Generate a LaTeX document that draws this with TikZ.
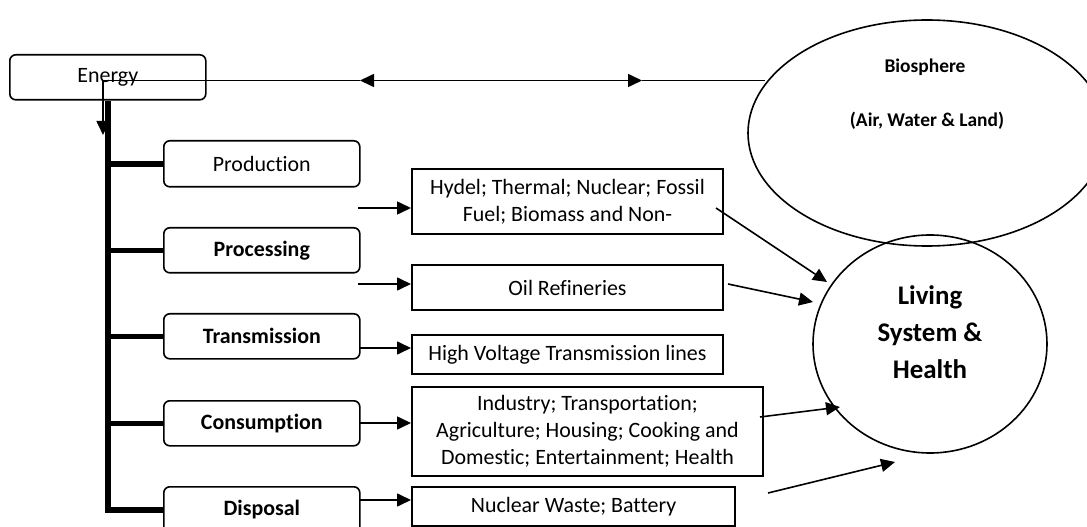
\documentclass[tikz,border=0pt]{standalone}
\usepackage{fontspec}
\setmainfont{Carlito}[Ligatures={NoCommon}]
\usetikzlibrary{arrows.meta,shapes.geometric}
\begin{document}
\begin{tikzpicture}[x=1bp,y=-1bp,
  txt/.style={font=\fontsize{22}{27}\selectfont},
  rbox/.style={draw, line width=1.6bp, rounded corners=6bp, anchor=north west,
    minimum width=196bp, minimum height=45bp, inner sep=0pt, txt},
  sbox/.style={draw, line width=2bp, anchor=north west, inner sep=0pt, align=center, txt},
  trunk/.style={line width=6.5bp},
  branch/.style={line width=5.5bp},
  conn/.style={line width=1.6bp, -{Triangle[length=14bp,width=13bp]}},
  dconn/.style={line width=1.6bp, {Triangle[length=14bp,width=13bp]}-{Triangle[length=14bp,width=13bp]}},
  plain/.style={line width=1.6bp},
  oval/.style={draw, ellipse, line width=1.6bp, inner sep=0pt}
]
\useasboundingbox (0,0) rectangle (1087,527);
\clip (0,0) rectangle (1087,527);

% ovals
\node[oval, minimum width=358bp, minimum height=226bp] (bio) at (927,133) {};
\node[oval, minimum width=234bp, minimum height=218bp] (liv) at (930,344) {};
\node[font=\bfseries\fontsize{19.5}{24}\selectfont] (biot1) at (925,67) {Biosphere};
\node[font=\bfseries\fontsize{19.5}{24}\selectfont] (biot2) at (927,121) {(Air, Water \& Land)};
\node[font=\bfseries\fontsize{27}{37}\selectfont, align=center] (livt) at (930,332) {Living\\System \&\\Health};

% left boxes
\node[rbox, minimum width=196bp] (energy) at (9,54) {Energy};
\node[rbox, minimum height=46bp] (prod) at (163,140) {Production};
\node[rbox, font=\bfseries\fontsize{22}{27}\selectfont] (proc) at (163,227) {Processing};
\node[rbox, font=\bfseries\fontsize{22}{27}\selectfont] (trans) at (163,313) {Transmission};
\node[rbox, font=\bfseries\fontsize{22}{27}\selectfont] (cons) at (163,400) {Consumption};
\node[rbox, minimum height=46bp, font=\bfseries\fontsize{22}{27}\selectfont] (disp) at (163,486) {Disposal};

% right boxes
\node[sbox, minimum width=311bp, minimum height=65bp] (hydel) at (411,168) {Hydel; Thermal; Nuclear; Fossil\\Fuel; Biomass and Non-};
\node[sbox, minimum width=311bp, minimum height=45bp] (oil) at (411,264) {Oil Refineries};
\node[sbox, minimum width=311bp, minimum height=39bp] (hv) at (411,334) {High Voltage Transmission lines};
\node[sbox, minimum width=351bp, minimum height=89bp] (ind) at (411,386) {Industry; Transportation;\\Agriculture; Housing; Cooking and\\Domestic; Entertainment; Health};
\node[sbox, minimum width=323bp, minimum height=39bp] (nuc) at (411,486) {Nuclear Waste; Battery};

% trunk and branches
\draw[trunk] (energy.south) |- (disp.west);
\foreach \b in {prod,proc,trans,cons}
  \draw[branch] (\b.west) -- (\b.west -| energy.south);

% top double arrow and down arrow
\coordinate (eA) at (103,80.5);
\coordinate (dn) at (103,135);
\coordinate (aL) at (360,80.5);
\coordinate (aR) at (642,80.5);
\coordinate (bL) at (765,80.5);
\draw[conn] (aL) -- (eA) -- (dn);
\draw[dconn] (aL) -- (aR);
\draw[plain] (aR) -- (bL);

% arrows into right boxes
\coordinate (s1) at (358,208);
\coordinate (s2) at (358,284);
\coordinate (s3) at (359,348);
\coordinate (s4) at (359,423);
\coordinate (s5) at (359,500);
\draw[conn] (s1) -- (s1 -| hydel.west);
\draw[conn] (s2) -- (s2 -| oil.west);
\draw[conn] (s3) -- (s3 -| hv.west);
\draw[conn] (s4) -- (s4 -| ind.west);
\draw[conn] (s5) -- (s5 -| nuc.west);

% arrows into living system
\coordinate (h1) at (716,208);
\coordinate (t1) at (827,282);
\coordinate (h2) at (728,284);
\coordinate (t2) at (813,302);
\coordinate (h3) at (760,417);
\coordinate (t3) at (840,407);
\coordinate (h4) at (768,493);
\coordinate (t4) at (895,462);
\draw[conn] (h1) -- (t1);
\draw[conn] (h2) -- (t2);
\draw[conn] (h3) -- (t3);
\draw[conn] (h4) -- (t4);
\end{tikzpicture}
\end{document}
